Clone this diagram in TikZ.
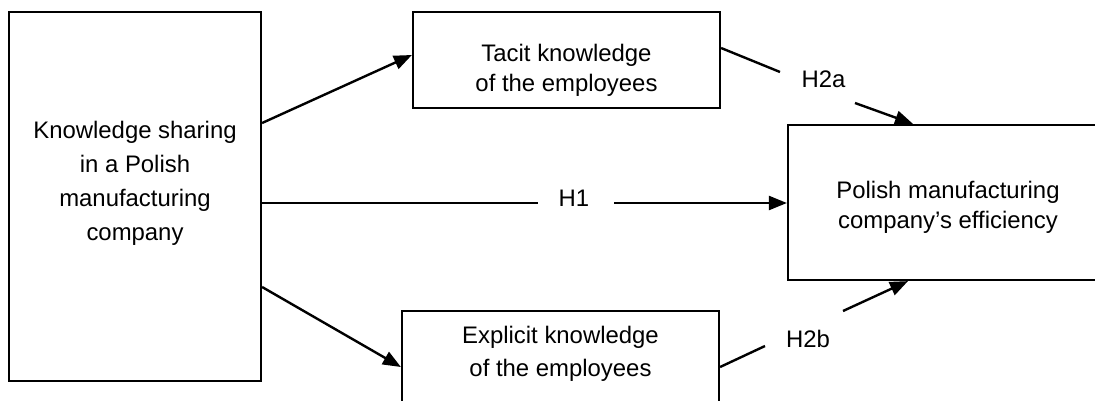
\documentclass[tikz,border=0pt]{standalone}
\usepackage{fontspec}
\setmainfont{Liberation Sans}
\usetikzlibrary{arrows.meta}
\begin{document}
\begin{tikzpicture}[x=1pt,y=-1pt,
  box/.style={draw,line width=2.2pt,inner sep=0pt},
  txt/.style={align=center,inner sep=0pt},
  conn/.style={line width=2.4pt},
  arr/.style={conn,-{Triangle[length=18pt,width=14pt]}},
  lab/.style={inner sep=0pt,anchor=base,font=\fontsize{23.9pt}{30pt}\selectfont}]
\useasboundingbox (0,0) rectangle (1095,401);
\clip (0,0) rectangle (1095,401);
% boxes
\node[box,minimum width=252pt,minimum height=369pt] (left) at (135,196.5) {};
\node[box,minimum width=307pt,minimum height=96pt] (top) at (566.5,60) {};
\node[box,minimum width=317pt,minimum height=129pt] (bot) at (560.5,375.5) {};
\node[box,minimum width=332pt,minimum height=155pt] (right) at (954,202.5) {};
% texts
\node[txt,font=\fontsize{23.9pt}{34pt}\selectfont] (lefttext) at (135,183) {Knowledge sharing\\in a Polish\\manufacturing\\company};
\node[txt,font=\fontsize{23.9pt}{30pt}\selectfont] (toptext) at (566.5,70) {Tacit knowledge\\of the employees};
\node[txt,font=\fontsize{23.9pt}{33pt}\selectfont] (bottext) at (560.5,353.5) {Explicit knowledge\\of the employees};
\node[txt,font=\fontsize{23.9pt}{30pt}\selectfont] (righttext) at (948,207) {Polish manufacturing\\company's efficiency};
% labels
\node[lab] (h1) at (574,206) {H1};
\node[lab] (h2a) at (823.5,88) {H2a};
\node[lab] (h2b) at (808,347) {H2b};
\coordinate (h1l) at (538,203);
\coordinate (h1r) at (614,203);
\coordinate (h2a1) at (780,72);
\coordinate (h2a2) at (855,103);
\coordinate (h2b1) at (765,346);
\coordinate (h2b2) at (843,311);
% connectors
\draw[arr] (left.east |- 0,123) -- (top.west |- 0,55);
\draw[arr] (left.east |- 0,287) -- (bot.west |- 0,367);
\draw[conn] (left.east |- h1l) -- (h1l);
\draw[arr] (h1r) -- (right.west |- h1r);
\draw[conn] (top.east |- 0,48) -- (h2a1);
\draw[arr] (h2a2) -- (right.north -| 913,0);
\draw[conn] (bot.east |- 0,367) -- (h2b1);
\draw[arr] (h2b2) -- (right.south -| 908,0);
\end{tikzpicture}
\end{document}
